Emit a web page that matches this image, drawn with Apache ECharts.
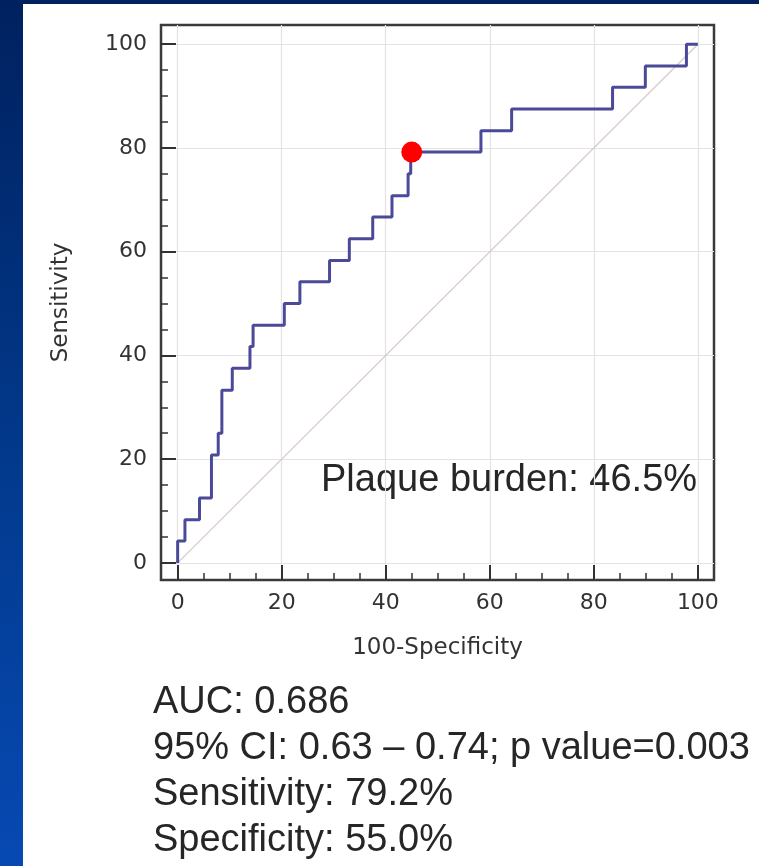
<!DOCTYPE html>
<html>
<head>
<meta charset="utf-8">
<script src="https://cdn.jsdelivr.net/npm/echarts@6/dist/echarts.min.js"></script>
<style>
  html, body { margin: 0; padding: 0; }
  body { width: 759px; height: 866px; position: relative; overflow: hidden;
         background: linear-gradient(to bottom, #00215f 0%, #023a8e 55%, #0749b3 100%); }
  #panel { position: absolute; left: 23px; top: 4px; right: 0; bottom: 0; background: #ffffff; }
  #main { position: absolute; left: 0; top: 0; width: 759px; height: 866px; }
</style>
</head>
<body>
<div id="panel"></div>
<div id="main"></div>
<script>
// ROC curve corners (100-Specificity, Sensitivity), drawn as a step line
var fpr = [0, 1.4, 4.2, 6.5, 7.8, 8.5, 10.5, 13.9, 14.5, 20.5, 23.5, 29.2, 33.0, 37.5, 41.2, 44.3, 44.8, 45.0, 58.3, 64.2, 83.6, 89.9, 97.8, 100];
var tpr = [0, 4.2, 8.3, 12.5, 20.8, 25.0, 33.3, 37.5, 41.7, 45.8, 50.0, 54.2, 58.3, 62.5, 66.7, 70.8, 75.0, 79.2, 79.2, 83.3, 87.5, 91.7, 95.8, 100];

// chance line
var diagX = [0, 100];
var diagY = [0, 100];

// optimal cut-off point
var cutX = [45.0];
var cutY = [79.2];

var majorTicks = [0, 20, 40, 60, 80, 100];
var minorTicks = [0, 5, 10, 15, 20, 25, 30, 35, 40, 45, 50, 55, 60, 65, 70, 75, 80, 85, 90, 95, 100];

var cutLabel = 'Plaque burden: 46.5%';
var statLines = [
  'AUC: 0.686',
  '95% CI: 0.63 \u2013 0.74; p value=0.003',
  'Sensitivity: 79.2%',
  'Specificity: 55.0%'
];

function pairs(xs, ys) {
  return xs.map(function (x, i) { return [x, ys[i]]; });
}

var myChart = echarts.init(document.getElementById('main'), null, { renderer: 'canvas' });

var tickFont = 'DejaVu Sans';
var bigFont = 'Liberation Sans';

function majorAxis(min, max, extra) {
  return Object.assign({
    type: 'value',
    min: min,
    max: max,
    axisLine: { show: false, onZero: false },
    axisTick: { show: true, inside: true, length: 15, customValues: majorTicks,
                lineStyle: { color: '#333', width: 2 } },
    axisLabel: { show: true, customValues: majorTicks, color: '#333',
                 fontFamily: tickFont, fontSize: 22 },
    splitLine: { show: true, lineStyle: { color: '#e3e3e3', width: 1.2 } }
  }, extra);
}

function minorAxis(min, max, pos) {
  return {
    type: 'value',
    position: pos,
    min: min,
    max: max,
    axisLine: { show: false, onZero: false },
    axisTick: { show: true, inside: true, length: 7, customValues: minorTicks,
                lineStyle: { color: '#333', width: 1.5 } },
    axisLabel: { show: false },
    splitLine: { show: false }
  };
}

var option = {
  backgroundColor: 'transparent',
  animation: false,
  grid: {
    left: 161, top: 25, width: 553, height: 555,
    show: true, borderColor: '#3a3a3a', borderWidth: 2.5, backgroundColor: 'transparent'
  },
  xAxis: [
    majorAxis(-3.2, 103.1, {
      position: 'bottom',
      name: '100-Specificity', nameLocation: 'middle', nameGap: 57,
      nameTextStyle: { color: '#333', fontFamily: tickFont, fontSize: 23 },
      axisLabel: { show: true, customValues: majorTicks, color: '#333',
                   fontFamily: tickFont, fontSize: 22, margin: 12 }
    }),
    minorAxis(-3.2, 103.1, 'bottom')
  ],
  yAxis: [
    majorAxis(-3.3, 103.7, {
      position: 'left',
      name: 'Sensitivity', nameLocation: 'middle', nameGap: 88,
      nameTextStyle: { color: '#333', fontFamily: tickFont, fontSize: 23 },
      axisLabel: { show: true, customValues: majorTicks, color: '#333',
                   fontFamily: tickFont, fontSize: 22, margin: 14 }
    }),
    minorAxis(-3.3, 103.7, 'left')
  ],
  series: [
    {
      type: 'line',
      data: pairs(diagX, diagY),
      symbol: 'none',
      lineStyle: { color: '#dcc9c9', width: 1.3 },
      z: 2
    },
    {
      type: 'line',
      step: 'start',
      data: pairs(fpr, tpr),
      symbol: 'none',
      lineStyle: { color: '#4a4a98', width: 3 },
      z: 3
    },
    {
      type: 'scatter',
      data: pairs(cutX, cutY),
      symbol: 'circle',
      symbolSize: 21,
      itemStyle: { color: '#ff0000', opacity: 1 },
      z: 4
    }
  ],
  graphic: [
    {
      type: 'text', left: 321, top: 462,
      style: { text: cutLabel, fill: '#262626', font: '38px "' + bigFont + '"' }
    },
    {
      type: 'text', left: 153, top: 680,
      style: { text: statLines.join('\n'), fill: '#262626',
               font: '38px "' + bigFont + '"', lineHeight: 46 }
    }
  ]
};

myChart.setOption(option);
</script>
</body>
</html>
